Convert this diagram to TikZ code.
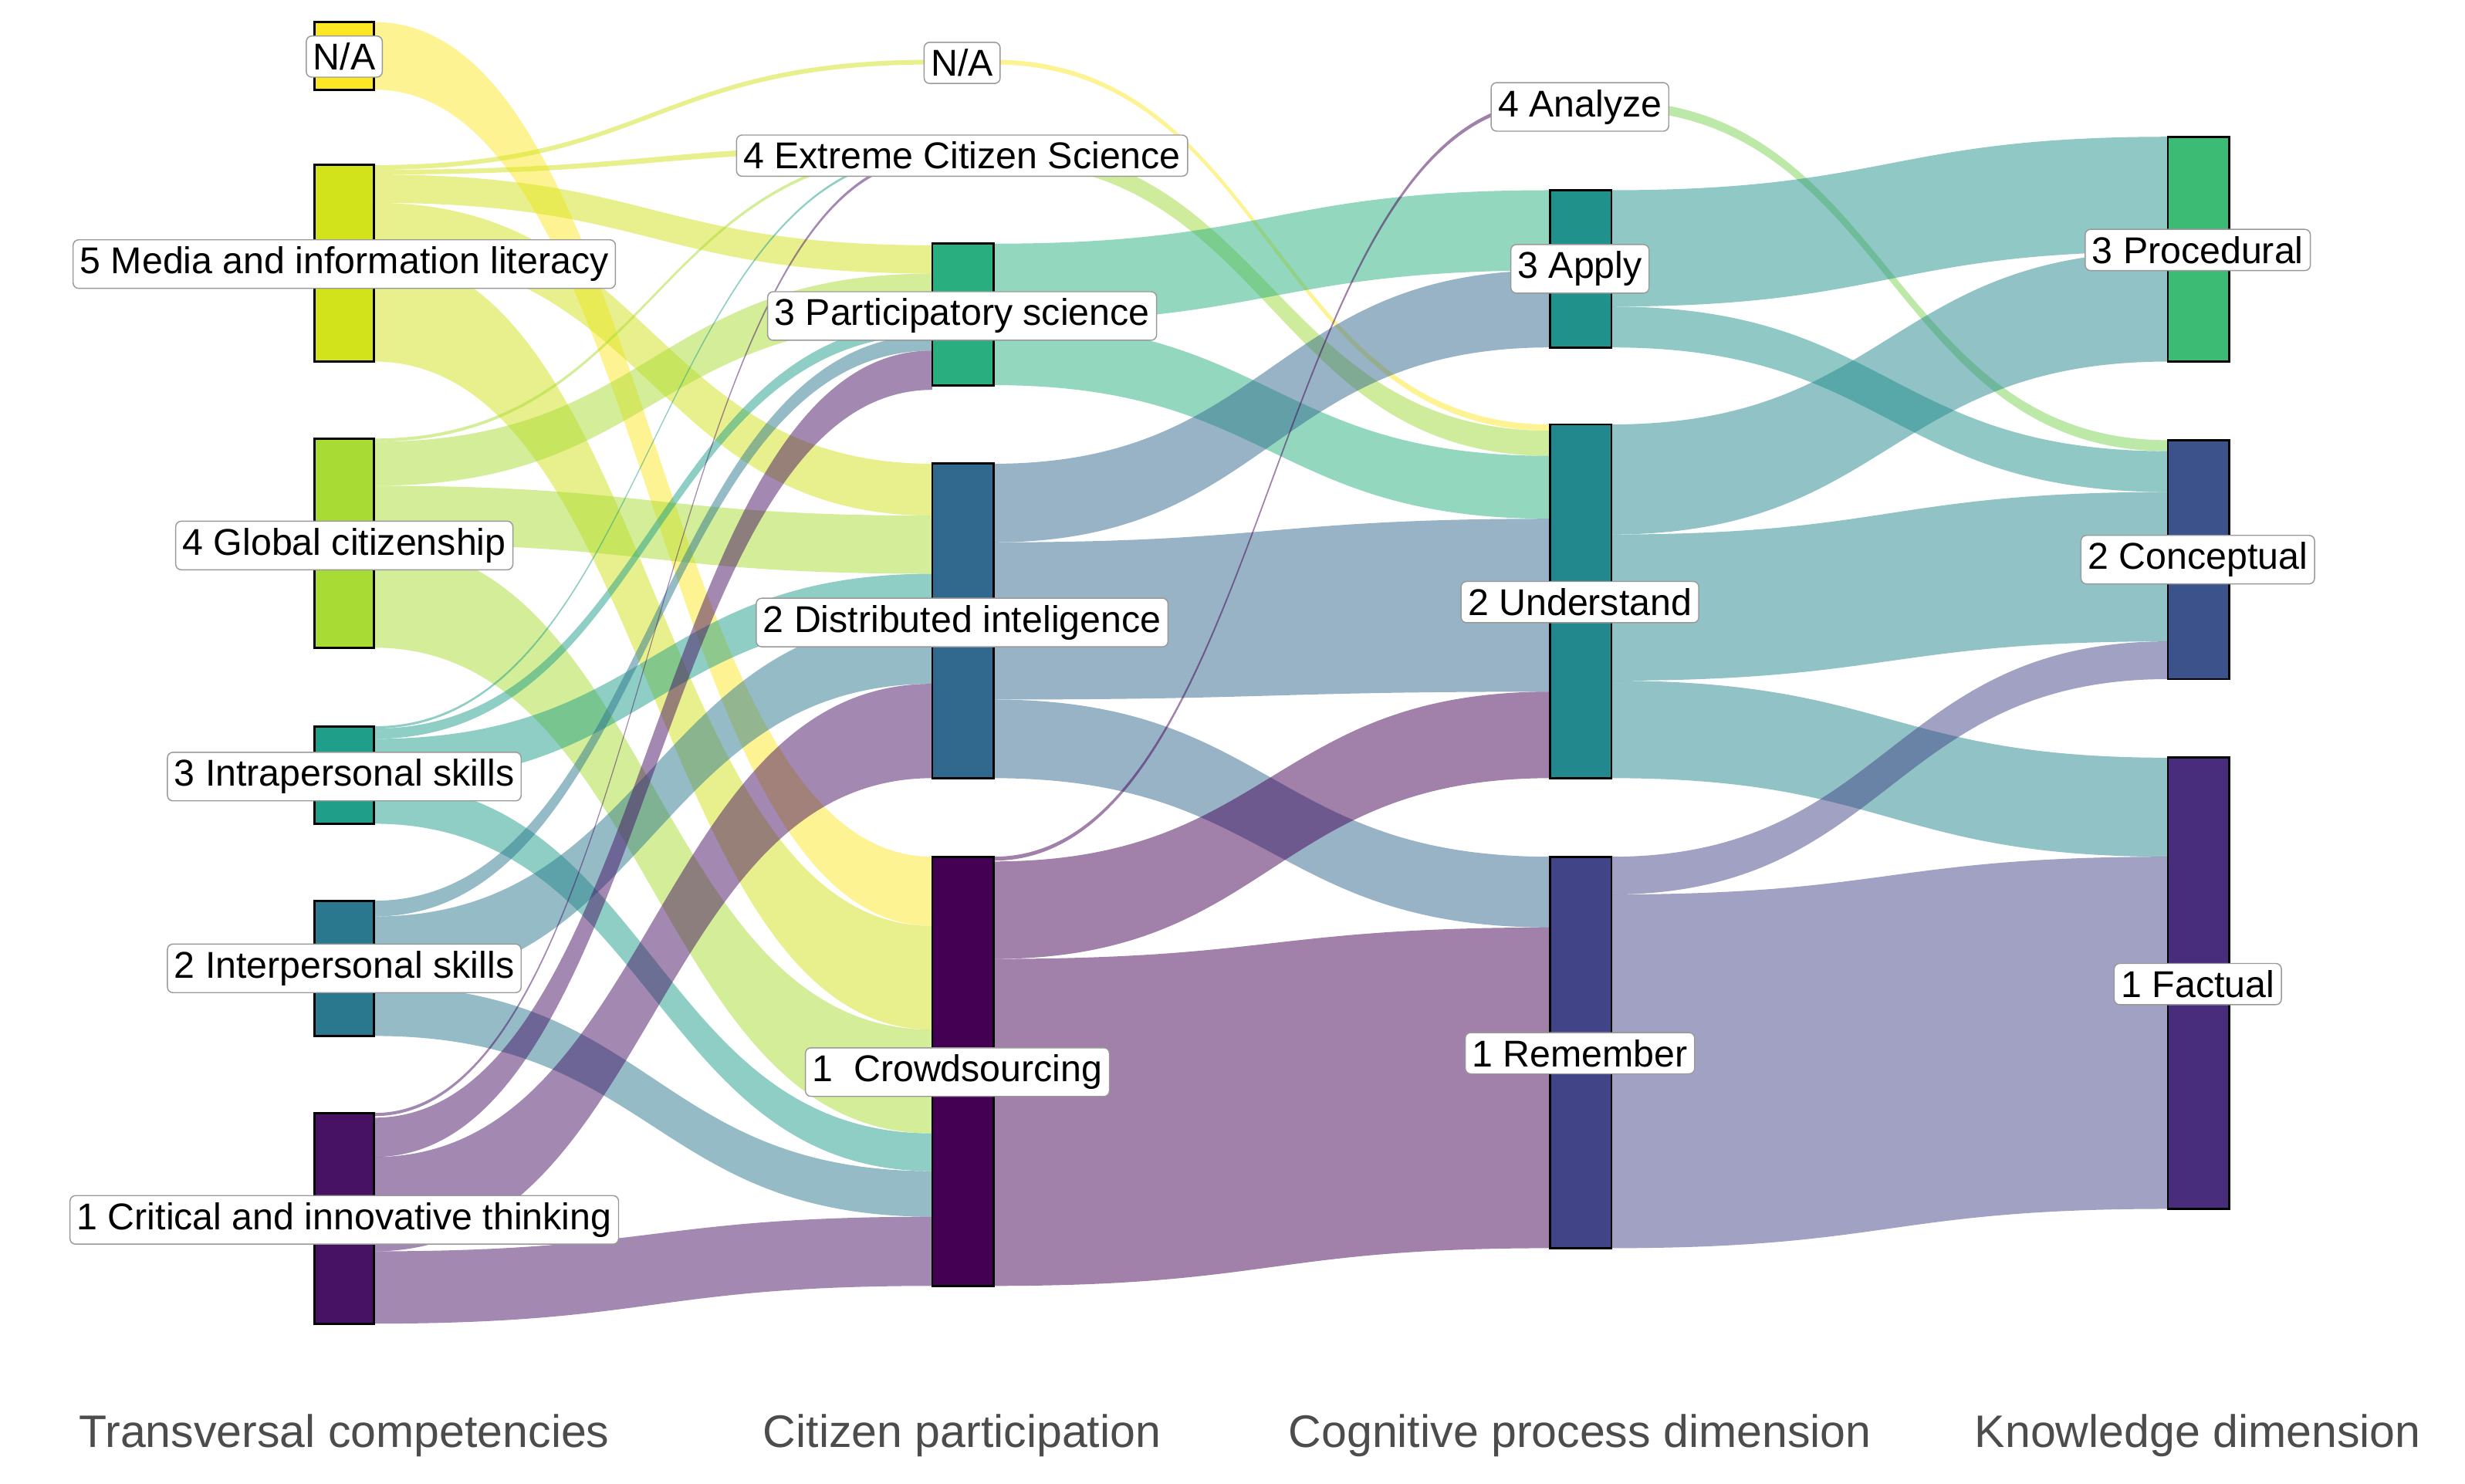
\documentclass[tikz,border=0pt]{standalone}
\usepackage{fontspec}
\setmainfont{Liberation Sans}
\begin{document}
\definecolor{cNA}{HTML}{FDE725}
\definecolor{cMed}{HTML}{D2E21B}
\definecolor{cGlo}{HTML}{A8DB34}
\definecolor{cIntra}{HTML}{1F9E89}
\definecolor{cInter}{HTML}{2A788E}
\definecolor{cCrit}{HTML}{471164}
\definecolor{cExt}{HTML}{A0DA39}
\definecolor{cPart}{HTML}{29AF7F}
\definecolor{cDist}{HTML}{31688E}
\definecolor{cCrowd}{HTML}{440154}
\definecolor{cAna}{HTML}{7AD151}
\definecolor{cApp}{HTML}{21918C}
\definecolor{cUnd}{HTML}{23888E}
\definecolor{cRem}{HTML}{414487}
\definecolor{cProc}{HTML}{3CBB75}
\definecolor{cCon}{HTML}{3B528B}
\definecolor{cFac}{HTML}{472D7B}
\newcommand{\flowband}[7]{%
  \pgfmathsetmacro{\fmid}{(#1+#4)/2}%
  \fill[#7, opacity=.5] (#1,#2) .. controls (\fmid,#2) and (\fmid,#5) .. (#4,#5)
     -- (#4,#6) .. controls (\fmid,#6) and (\fmid,#3) .. (#1,#3) -- cycle;}
\begin{tikzpicture}[x=0.02cm,y=-0.02cm,
  bar/.style={draw=black, line width=0.8pt},
  lab/.style={draw=gray!80, fill=white, rounded corners=2pt, inner sep=2.5pt,
     font=\fontsize{13.5}{16}\selectfont, text=black},
  axt/.style={font=\fontsize{16.5}{19}\selectfont, text=black!70}]
\useasboundingbox (0,0) rectangle (1568,944);
% axis1 -> axis2
\flowband{238}{14}{57}{593}{545}{589}{cNA}
\flowband{238}{105}{108}{593}{38}{41}{cMed}
\flowband{238}{108}{111}{593}{92}{96}{cMed}
\flowband{238}{111}{129}{593}{156}{174}{cMed}
\flowband{238}{129}{162}{593}{295}{328}{cMed}
\flowband{238}{162}{230}{593}{589}{655}{cMed}
\flowband{238}{279}{281}{593}{96}{98}{cGlo}
\flowband{238}{281}{309}{593}{174}{205}{cGlo}
\flowband{238}{309}{346}{593}{328}{365}{cGlo}
\flowband{238}{346}{412}{593}{655}{721}{cGlo}
\flowband{238}{462}{463.5}{593}{98}{99.5}{cIntra}
\flowband{238}{463.5}{470}{593}{205}{213}{cIntra}
\flowband{238}{470}{498}{593}{365}{393}{cIntra}
\flowband{238}{498}{524}{593}{721}{745}{cIntra}
\flowband{238}{573}{583}{593}{213}{223}{cInter}
\flowband{238}{583}{627}{593}{393}{435}{cInter}
\flowband{238}{627}{659}{593}{745}{774}{cInter}
\flowband{238}{708}{710}{593}{100}{102}{cCrit}
\flowband{238}{711}{736}{593}{223}{248}{cCrit}
\flowband{238}{736}{796}{593}{435}{495}{cCrit}
\flowband{238}{796}{842}{593}{774}{818}{cCrit}
% axis2 -> axis3
\flowband{632}{38}{41}{986}{270}{274}{cNA}
\flowband{632}{92}{103}{986}{274}{290}{cExt}
\flowband{632}{155}{205}{986}{121}{172}{cPart}
\flowband{632}{205}{245}{986}{290}{330}{cPart}
\flowband{632}{295}{345}{986}{172}{221}{cDist}
\flowband{632}{345}{445}{986}{330}{440}{cDist}
\flowband{632}{445}{495}{986}{545}{590}{cDist}
\flowband{632}{545}{547.5}{986}{64}{66.5}{cCrowd}
\flowband{632}{548}{610}{986}{440}{495}{cCrowd}
\flowband{632}{610}{818}{986}{590}{794}{cCrowd}
% axis3 -> axis4
\flowband{1025}{64}{70}{1379}{280}{287}{cAna}
\flowband{1025}{121}{195}{1379}{87}{160}{cApp}
\flowband{1025}{195}{221}{1379}{287}{313}{cApp}
\flowband{1025}{270}{340}{1379}{160}{230}{cUnd}
\flowband{1025}{340}{433}{1379}{313}{408}{cUnd}
\flowband{1025}{433}{495}{1379}{482}{545}{cUnd}
\flowband{1025}{545}{569}{1379}{408}{432}{cRem}
\flowband{1025}{569}{794}{1379}{545}{769}{cRem}
% bars
\draw[bar, fill=cNA] (200,14) rectangle (238,57);
\draw[bar, fill=cMed] (200,105) rectangle (238,230);
\draw[bar, fill=cGlo] (200,279) rectangle (238,412);
\draw[bar, fill=cIntra] (200,462) rectangle (238,524);
\draw[bar, fill=cInter] (200,573) rectangle (238,659);
\draw[bar, fill=cCrit] (200,708) rectangle (238,842);
\draw[bar, fill=cNA] (593,38) rectangle (632,41);
\draw[bar, fill=cExt] (593,92) rectangle (632,103);
\draw[bar, fill=cPart] (593,155) rectangle (632,245);
\draw[bar, fill=cDist] (593,295) rectangle (632,495);
\draw[bar, fill=cCrowd] (593,545) rectangle (632,818);
\draw[bar, fill=cAna] (986,62) rectangle (1025,74);
\draw[bar, fill=cApp] (986,121) rectangle (1025,221);
\draw[bar, fill=cUnd] (986,270) rectangle (1025,495);
\draw[bar, fill=cRem] (986,545) rectangle (1025,794);
\draw[bar, fill=cProc] (1379,87) rectangle (1418,230);
\draw[bar, fill=cCon] (1379,280) rectangle (1418,432);
\draw[bar, fill=cFac] (1379,482) rectangle (1418,769);
% labels
\node[lab] (l1a) at (219,36) {N/A};
\node[lab] (l1b) at (219,168) {5 Media and information literacy};
\node[lab] (l1c) at (219,347) {4 Global citizenship};
\node[lab] (l1d) at (219,494) {3 Intrapersonal skills};
\node[lab] (l1e) at (219,616) {2 Interpersonal skills};
\node[lab] (l1f) at (219,776) {1 Critical and innovative thinking};
\node[lab] (l2a) at (612,40) {N/A};
\node[lab] (l2b) at (612,99) {4 Extreme Citizen Science};
\node[lab] (l2c) at (612,201) {3 Participatory science};
\node[lab] (l2d) at (612,396) {2 Distributed inteligence};
\node[lab] (l2e) at (609,682) {1\ \ Crowdsourcing};
\node[lab] (l3a) at (1005,68) {4 Analyze};
\node[lab] (l3b) at (1005,171) {3 Apply};
\node[lab] (l3c) at (1005,383) {2 Understand};
\node[lab] (l3d) at (1005,670) {1 Remember};
\node[lab] (l4a) at (1398,159) {3 Procedural};
\node[lab] (l4b) at (1398,356) {2 Conceptual};
\node[lab] (l4c) at (1398,626) {1 Factual};
% axis titles
\node[axt] (t1) at (219,913) {Transversal competencies};
\node[axt] (t2) at (612,913) {Citizen participation};
\node[axt] (t3) at (1005,913) {Cognitive process dimension};
\node[axt] (t4) at (1398,913) {Knowledge dimension};
\end{tikzpicture}
\end{document}
